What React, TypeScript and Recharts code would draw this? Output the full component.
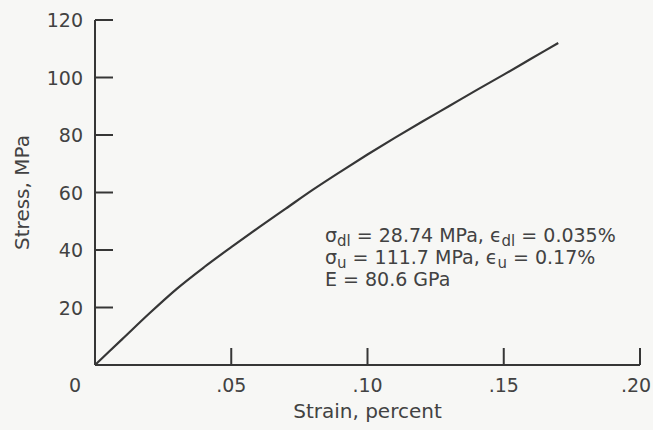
import { LineChart, Line, XAxis, YAxis, Label, Customized } from "recharts";

// stress-strain curve
const strain = [0, 0.01, 0.02, 0.03, 0.04, 0.05, 0.06, 0.07, 0.08, 0.09, 0.1, 0.11, 0.12, 0.13, 0.14, 0.15, 0.16, 0.17];
const stress = [0, 9, 18, 26.5, 34, 41, 47.8, 54.4, 61, 67.2, 73.2, 79, 84.6, 90.1, 95.6, 101, 106.5, 112];

const xTicks = [0, 0.05, 0.1, 0.15, 0.2];
const yTicks = [20, 40, 60, 80, 100, 120];

// annotation lines, "sub" parts are drawn as subscripts
const notes = [
    [{ t: "σ" }, { t: "dl", sub: true }, { t: " = 28.74 MPa, ϵ" }, { t: "dl", sub: true }, { t: " = 0.035%" }],
    [{ t: "σ" }, { t: "u", sub: true }, { t: " = 111.7 MPa, ϵ" }, { t: "u", sub: true }, { t: " = 0.17%" }],
    [{ t: "E = 80.6 GPa" }],
];

const data = strain.map((s, i) => ({ strain: s, stress: stress[i] }));

const ink = "#363636";
const textInk = "#424242";
const font = "DejaVu Sans";

const fmtX = (v: number) => (v === 0 ? "0" : v.toFixed(2).replace(/^0/, ""));

const XTick = (props: any) => {
    const { x, y, payload } = props;
    const axisY = y - 8;
    const v = payload.value;
    // first label sits left of the origin, last one is pulled in from the edge
    const dx = v === 0 ? -20 : v >= 0.2 ? -4 : 0;
    return (
        <g>
            {v > 0 && <line x1={x} x2={x} y1={axisY} y2={axisY - 17} stroke={ink} strokeWidth={2} />}
            <text x={x + dx} y={y + 19} textAnchor="middle" fill={textInk} fontSize={19} fontFamily={font}>
                {fmtX(v)}
            </text>
        </g>
    );
};

const YTick = (props: any) => {
    const { x, y, payload } = props;
    const axisX = x + 12;
    return (
        <g>
            <line x1={axisX} x2={axisX + 18} y1={y} y2={y} stroke={ink} strokeWidth={2} />
            <text x={x} y={y + 7} textAnchor="end" fill={textInk} fontSize={19} fontFamily={font}>
                {payload.value}
            </text>
        </g>
    );
};

const Notes = () => (
    <g fill={textInk} fontSize={19} fontFamily={font}>
        {notes.map((line, i) => (
            <text key={i} x={325} y={242 + i * 22}>
                {line.map((p, j) => (
                    <tspan key={j} dy={p.sub ? 4 : j > 0 && line[j - 1].sub ? -4 : 0} fontSize={p.sub ? 15 : 19}>
                        {p.t}
                    </tspan>
                ))}
            </text>
        ))}
    </g>
);

export default function App() {
    return (
        <div
            style={{
                position: "absolute",
                left: 0,
                top: 0,
                width: 653,
                height: 430,
                background: "#f7f7f5",
            }}
        >
            <LineChart
                width={653}
                height={430}
                data={data}
                margin={{ top: 20, right: 13, left: 0, bottom: 0 }}
            >
                <XAxis
                    dataKey="strain"
                    type="number"
                    domain={[0, 0.2]}
                    ticks={xTicks}
                    height={65}
                    tickLine={false}
                    tickSize={0}
                    tickMargin={8}
                    axisLine={{ stroke: ink, strokeWidth: 2 }}
                    tick={XTick}
                    interval={0}
                >
                    <Label
                        content={(p: any) => (
                            <text
                                x={p.viewBox.x + p.viewBox.width / 2}
                                y={p.viewBox.y + 53}
                                textAnchor="middle"
                                fill={textInk}
                                fontSize={20}
                                fontFamily={font}
                            >
                                Strain, percent
                            </text>
                        )}
                    />
                </XAxis>
                <YAxis
                    type="number"
                    domain={[0, 120]}
                    ticks={yTicks}
                    width={95}
                    tickLine={false}
                    tickSize={0}
                    tickMargin={12}
                    axisLine={{ stroke: ink, strokeWidth: 2 }}
                    tick={YTick}
                    interval={0}
                >
                    <Label
                        content={(p: any) => {
                            const cx = 29;
                            const cy = p.viewBox.y + p.viewBox.height / 2;
                            return (
                                <text
                                    x={cx}
                                    y={cy}
                                    transform={`rotate(-90 ${cx} ${cy})`}
                                    textAnchor="middle"
                                    fill={textInk}
                                    fontSize={20}
                                    fontFamily={font}
                                >
                                    Stress, MPa
                                </text>
                            );
                        }}
                    />
                </YAxis>
                <Line
                    type="monotone"
                    dataKey="stress"
                    stroke={ink}
                    strokeWidth={2.2}
                    dot={false}
                    isAnimationActive={false}
                />
                <Customized component={Notes} />
            </LineChart>
        </div>
    );
}
